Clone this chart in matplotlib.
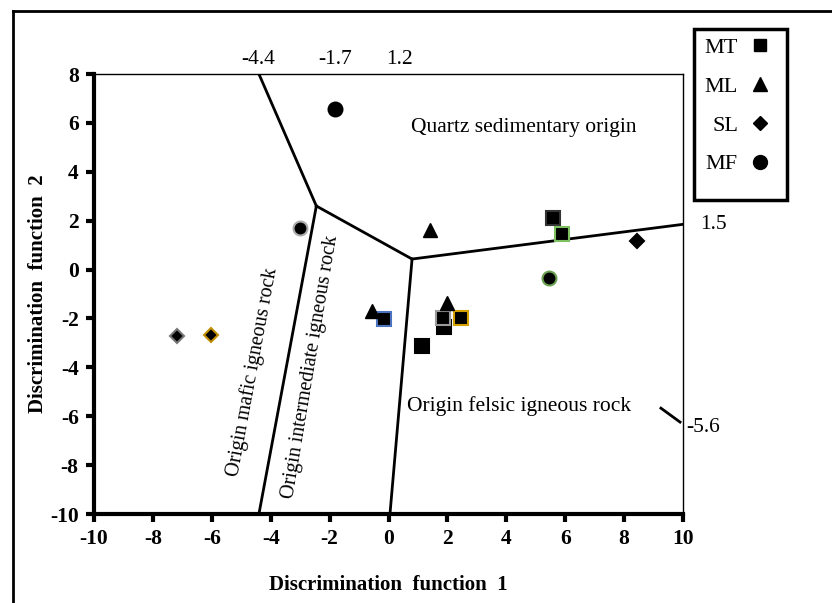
import numpy as np
import matplotlib
matplotlib.use("Agg")
import matplotlib.pyplot as plt
from matplotlib.lines import Line2D
from matplotlib.patches import Rectangle

plt.rcParams['font.family'] = ['Liberation Serif', 'DejaVu Serif']
plt.rcParams['axes.unicode_minus'] = False

# sample scores (discrimination function 1, 2)
mt_x = [-0.15, 1.88, 1.85, 2.46, 1.14, 5.59, 5.89]
mt_y = [-2.02, -2.35, -2.00, -1.98, -3.13, 2.11, 1.45]
ml_x = [1.41, 1.99, -0.56]
ml_y = [1.62, -1.37, -1.70]
sl_x = [-7.18, -6.03, 8.44]
sl_y = [-2.72, -2.68, 1.17]
mf_x = [-1.82, -3.0, 5.45]
mf_y = [6.57, 1.70, -0.35]

mt_edge = ['#4a74c0', 'black', '#9a9a9a', '#d4a000', 'black', '#333333', '#7cc060']
ml_edge = ['black', 'black', 'black']
sl_edge = ['#777777', '#c09000', 'black']
mf_edge = ['black', '#aaaaaa', '#6aa050']

# field boundaries
junc1 = (-2.45, 2.6)
junc2 = (0.8, 0.43)
boundaries = [
    [(-4.4, 8), junc1],
    [junc1, (-4.4, -10)],
    [junc1, junc2],
    [junc2, (0.05, -10)],
    [junc2, (10, 1.85)],
]
short_seg = [(9.25, -5.67), (9.9, -6.24)]

fig = plt.figure(figsize=(8.32, 6.03), dpi=100)
ax = fig.add_axes([94/832, 1-514/603, (683-94)/832, (514-74)/603])

for seg in boundaries:
    ax.plot([seg[0][0], seg[1][0]], [seg[0][1], seg[1][1]], color='black', lw=2, zorder=2)
ax.plot([short_seg[0][0], short_seg[1][0]], [short_seg[0][1], short_seg[1][1]],
        color='black', lw=2, clip_on=False)

for x, y, e in zip(mt_x, mt_y, mt_edge):
    ax.plot(x, y, marker='s', ms=9.5, color='black', mec=e, mew=1.5, zorder=3)
for x, y, e in zip(ml_x, ml_y, ml_edge):
    ax.plot(x, y, marker='^', ms=10, color='black', mec=e, mew=1, zorder=3)
for x, y, e in zip(sl_x, sl_y, sl_edge):
    ax.plot(x, y, marker='D', ms=7, color='black', mec=e, mew=1.5, zorder=3)
for x, y, e in zip(mf_x, mf_y, mf_edge):
    ax.plot(x, y, marker='o', ms=10, color='black', mec=e, mew=1.5, zorder=3)

ax.set_xlim(-10, 10)
ax.set_ylim(-10, 8)
ax.set_xticks(np.arange(-10, 11, 2))
ax.set_yticks(np.arange(-10, 9, 2))
ax.tick_params(direction='out', length=6, width=3, labelsize=15.5, pad=5)
for lab in ax.get_xticklabels() + ax.get_yticklabels():
    lab.set_fontweight('bold')
ax.spines['left'].set_linewidth(3)
ax.spines['bottom'].set_linewidth(3)
ax.spines['top'].set_linewidth(1)
ax.spines['right'].set_linewidth(1)

ax.set_xlabel('Discrimination  function  1', fontsize=15, fontweight='bold')
ax.set_ylabel('Discrimination  function  2', fontsize=15, fontweight='bold')
ax.xaxis.set_label_coords(0.5, -0.139)
ax.yaxis.set_label_coords(-0.078, 0.5)

# field names
ax.text(4.6, 5.8, 'Quartz sedimentary origin', fontsize=15.5, ha='center', va='center')
ax.text(4.45, -5.6, 'Origin felsic igneous rock', fontsize=15.5, ha='center', va='center')
ax.text(-4.63, -4.2, 'Origin mafic igneous rock', fontsize=14.5, ha='center', va='center',
        rotation=79.5, rotation_mode='anchor')
ax.text(-2.63, -4.0, 'Origin intermediate igneous rock', fontsize=14.5, ha='center',
        va='center', rotation=80.5, rotation_mode='anchor')

# boundary end values
for xv, lab in [(-4.42, '-4.4'), (-1.82, '-1.7'), (0.36, '1.2')]:
    ax.text(xv, 8.2, lab, fontsize=15.5, ha='center', va='bottom')
ax.text(10.6, 1.85, '1.5', fontsize=15.5, ha='left', va='center')
ax.text(10.1, -6.45, '-5.6', fontsize=15.5, ha='left', va='center')

handles = [
    Line2D([], [], ls='none', marker='s', ms=9, color='black', label='MT'),
    Line2D([], [], ls='none', marker='^', ms=10, color='black', label='ML'),
    Line2D([], [], ls='none', marker='D', ms=7, color='black', label='SL'),
    Line2D([], [], ls='none', marker='o', ms=10, color='black', label='MF'),
]
leg = fig.legend(handles=handles, loc='upper left', bbox_to_anchor=(689/832, 1-22/603),
                 markerfirst=False, fontsize=16, labelspacing=0.82, handlelength=1.0,
                 handletextpad=0.5, borderpad=0.2, frameon=False)
for t in leg.get_texts():
    t.set_ha('right')
fig.add_artist(Rectangle((694/832, 1-200/603), 93/832, 171/603, transform=fig.transFigure,
                         fill=False, edgecolor='black', lw=2.5))

# outer figure border (left and top)
fig.add_artist(Line2D([13/832, 13/832], [0, 1-11/603], color='black', lw=2))
fig.add_artist(Line2D([13/832, 1], [1-11/603, 1-11/603], color='black', lw=2))

fig.savefig('out.png', dpi=100)
